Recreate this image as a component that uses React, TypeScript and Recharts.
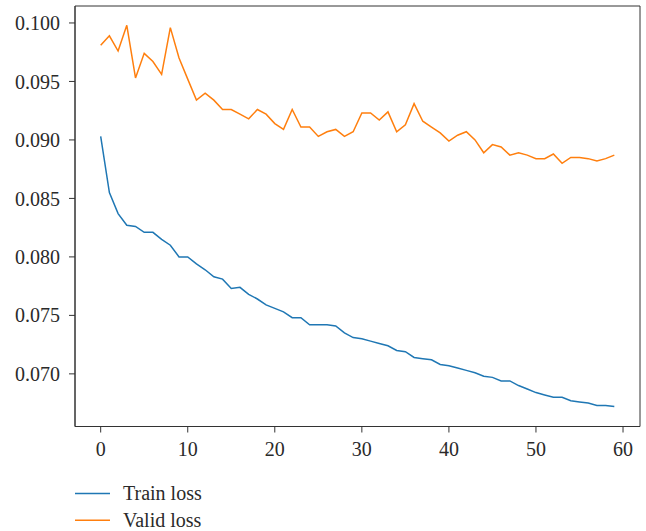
import React from "react";
import { LineChart, Line, XAxis, YAxis, ReferenceArea, Legend } from "recharts";

const epochs = [
  0, 1, 2, 3, 4, 5, 6, 7, 8, 9, 10, 11, 12, 13, 14, 15, 16, 17, 18, 19,
  20, 21, 22, 23, 24, 25, 26, 27, 28, 29, 30, 31, 32, 33, 34, 35, 36, 37, 38, 39,
  40, 41, 42, 43, 44, 45, 46, 47, 48, 49, 50, 51, 52, 53, 54, 55, 56, 57, 58, 59,
];

const trainLoss = [
  0.0903, 0.0855, 0.0837, 0.0827, 0.0826, 0.0821, 0.0821, 0.0815, 0.081, 0.08,
  0.08, 0.0794, 0.0789, 0.0783, 0.0781, 0.0773, 0.0774, 0.0768, 0.0764, 0.0759,
  0.0756, 0.0753, 0.0748, 0.0748, 0.0742, 0.0742, 0.0742, 0.0741, 0.0735, 0.0731,
  0.073, 0.0728, 0.0726, 0.0724, 0.072, 0.0719, 0.0714, 0.0713, 0.0712, 0.0708,
  0.0707, 0.0705, 0.0703, 0.0701, 0.0698, 0.0697, 0.0694, 0.0694, 0.069, 0.0687,
  0.0684, 0.0682, 0.068, 0.068, 0.0677, 0.0676, 0.0675, 0.0673, 0.0673, 0.0672,
];

const validLoss = [
  0.0981, 0.0989, 0.0976, 0.0998, 0.0953, 0.0974, 0.0967, 0.0956, 0.0996, 0.097,
  0.0952, 0.0934, 0.094, 0.0934, 0.0926, 0.0926, 0.0922, 0.0918, 0.0926, 0.0922,
  0.0914, 0.0909, 0.0926, 0.0911, 0.0911, 0.0903, 0.0907, 0.0909, 0.0903, 0.0907,
  0.0923, 0.0923, 0.0917, 0.0924, 0.0907, 0.0913, 0.0931, 0.0916, 0.0911, 0.0906,
  0.0899, 0.0904, 0.0907, 0.09, 0.0889, 0.0896, 0.0894, 0.0887, 0.0889, 0.0887,
  0.0884, 0.0884, 0.0888, 0.088, 0.0885, 0.0885, 0.0884, 0.0882, 0.0884, 0.0887,
];

const xTicks = [0, 10, 20, 30, 40, 50, 60];
const yTicks = [0.07, 0.075, 0.08, 0.085, 0.09, 0.095, 0.1];
const seriesNames = ["Train loss", "Valid loss"];
const seriesColors = ["#1f77b4", "#ff7f0e"];

const X_DOMAIN: [number, number] = [-2.95, 61.95];
const Y_DOMAIN: [number, number] = [0.0655, 0.10145];

const data = epochs.map((e, i) => ({
  epoch: e,
  train: trainLoss[i],
  valid: validLoss[i],
}));

const FONT = "'Liberation Serif', 'Times New Roman', serif";
const AXIS_COLOR = "#333333";
const TEXT_COLOR = "#2a2a2a";
const FONT_SIZE = 20;

const LegendContent = () => (
  <svg width={646} height={531} style={{ position: "absolute", left: 0, top: 0 }}>
    {seriesNames.map((name, i) => (
      <g key={name}>
        <line
          x1={75}
          x2={110}
          y1={493.5 + i * 26.7}
          y2={493.5 + i * 26.7}
          stroke={seriesColors[i]}
          strokeWidth={1.5}
        />
        <text
          x={123}
          y={493.5 + i * 26.7}
          dy="0.34em"
          fontFamily={FONT}
          fontSize={FONT_SIZE}
          fill={TEXT_COLOR}
        >
          {name}
        </text>
      </g>
    ))}
  </svg>
);

export default function App() {
  return (
    <div style={{ position: "absolute", left: 0, top: 0 }}>
      <LineChart
        width={646}
        height={531}
        data={data}
        margin={{ top: 6, right: 6, bottom: 0, left: 0 }}
      >
        <XAxis
          dataKey="epoch"
          type="number"
          domain={X_DOMAIN}
          ticks={xTicks}
          allowDataOverflow
          height={104.5}
          tickSize={6}
          tickMargin={9}
          stroke={AXIS_COLOR}
          tick={{ fill: TEXT_COLOR, fontFamily: FONT, fontSize: FONT_SIZE }}
        />
        <YAxis
          type="number"
          domain={Y_DOMAIN}
          ticks={yTicks}
          allowDataOverflow
          width={75}
          tickSize={6}
          tickMargin={9}
          stroke={AXIS_COLOR}
          tickFormatter={(v: number) => v.toFixed(3)}
          tick={{ fill: TEXT_COLOR, fontFamily: FONT, fontSize: FONT_SIZE }}
        />
        <ReferenceArea
          x1={X_DOMAIN[0]}
          x2={X_DOMAIN[1]}
          y1={Y_DOMAIN[0]}
          y2={Y_DOMAIN[1]}
          fill="none"
          stroke={AXIS_COLOR}
          strokeWidth={1}
          ifOverflow="visible"
        />
        <Line
          type="linear"
          dataKey="train"
          name={seriesNames[0]}
          stroke={seriesColors[0]}
          strokeWidth={1.5}
          dot={false}
          isAnimationActive={false}
        />
        <Line
          type="linear"
          dataKey="valid"
          name={seriesNames[1]}
          stroke={seriesColors[1]}
          strokeWidth={1.5}
          dot={false}
          isAnimationActive={false}
        />
        <Legend
          verticalAlign="middle"
          layout="horizontal"
          content={() => <LegendContent />}
          wrapperStyle={{ left: 0, top: 0, width: 646, height: 531, pointerEvents: "none" }}
        />
      </LineChart>
    </div>
  );
}
